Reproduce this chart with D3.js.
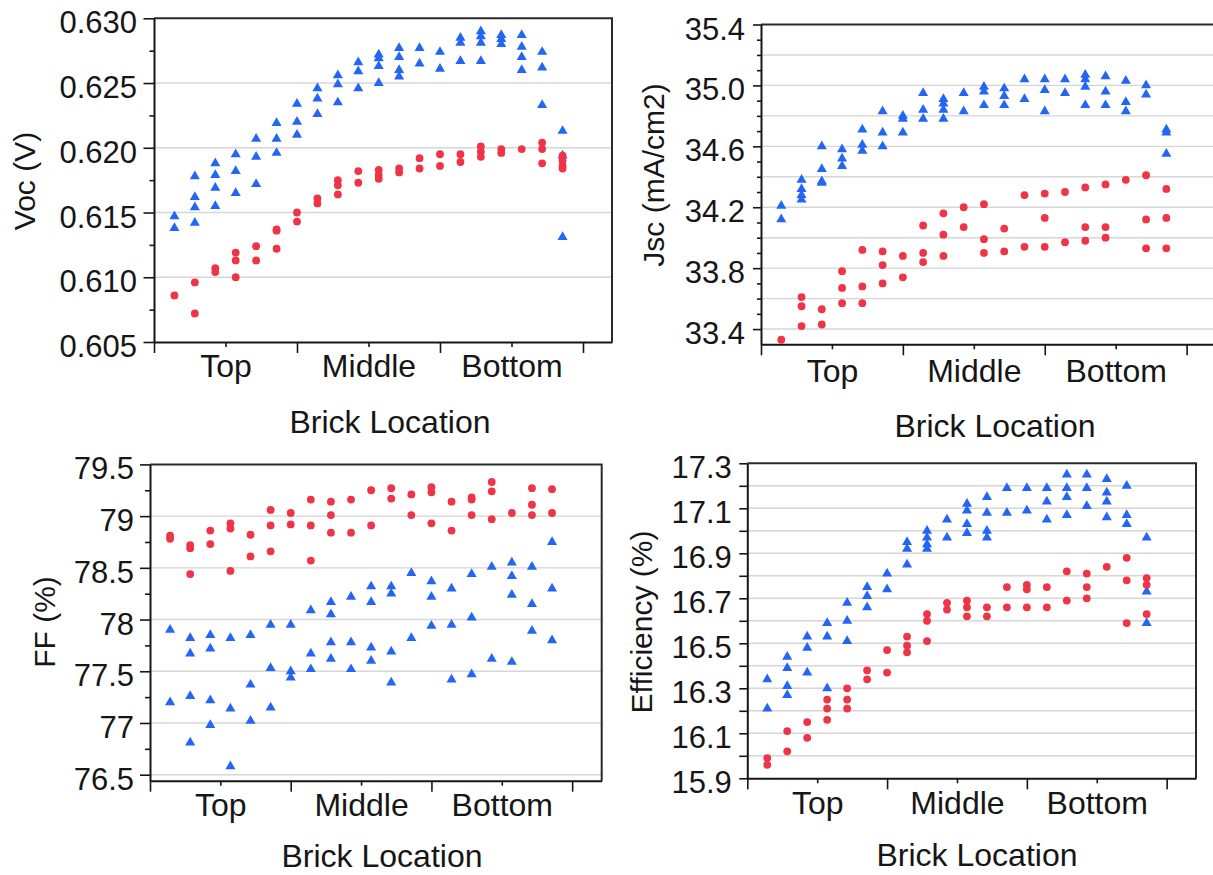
<!DOCTYPE html>
<html>
<head>
<meta charset="utf-8">
<script src="https://cdn.jsdelivr.net/npm/d3@7"></script>
<style>
  html, body { margin: 0; padding: 0; background: #fff; }
  svg { display: block; font-family: "Liberation Sans", Arial, Helvetica, sans-serif; }
</style>
</head>
<body>
<svg id="chart" width="1213" height="875"></svg>
<script>
// Brick slots along each ingot section (Top: 1-7, Middle: 7-14, Bottom: 14-20)
const brickSlots = [1, 2, 3, 4, 5, 6, 7, 8, 9, 10, 11, 12, 13, 14, 15, 16, 17, 18, 19, 20];
const locations = ["Top", "Middle", "Bottom"];
const locationTicks = [3.5, 10.5, 17.5];
const sectionEdges = [0, 7, 14, 21];

// Open-circuit voltage (V), one list of wafers per brick slot
const vocBlue = [
  [0.6147, 0.6138], [0.6178, 0.6162, 0.6154, 0.6142], [0.6188, 0.6179, 0.6169, 0.6155],
  [0.6195, 0.6182, 0.6165], [0.6207, 0.6193, 0.6172], [0.6219, 0.6207, 0.6196],
  [0.6234, 0.6220, 0.6210], [0.6246, 0.6238, 0.6226], [0.6256, 0.6249, 0.6235],
  [0.6266, 0.6259, 0.6246], [0.6272, 0.6269, 0.6263, 0.6250], [0.6277, 0.6270, 0.6260, 0.6255],
  [0.6277, 0.6265], [0.6274, 0.6261], [0.6285, 0.6281, 0.6267],
  [0.6290, 0.6286, 0.6281, 0.6267], [0.6287, 0.6284, 0.6280], [0.6287, 0.6278, 0.6270, 0.6260],
  [0.6274, 0.6262, 0.6233], [0.6213, 0.6194, 0.6131]
];
const vocRed = [
  [0.6086], [0.6096, 0.6072], [0.6107, 0.6104], [0.6119, 0.6113, 0.6100], [0.6124, 0.6113],
  [0.6137, 0.6136, 0.6122], [0.6150, 0.6143], [0.6161, 0.6157], [0.6175, 0.6171, 0.6164],
  [0.6182, 0.6173], [0.6183, 0.6179, 0.6176], [0.6184, 0.6181], [0.6192, 0.6184],
  [0.6195, 0.6186], [0.6195, 0.6189], [0.6201, 0.6197, 0.6193], [0.6199, 0.6196],
  [0.6199], [0.6204, 0.6199, 0.6188], [0.6194, 0.6190, 0.6186, 0.6184]
];

// Short-circuit current density (mA/cm2)
const jscBlue = [
  [34.21, 34.12], [34.38, 34.32, 34.28, 34.25], [34.60, 34.45, 34.37, 34.36],
  [34.58, 34.52, 34.47], [34.71, 34.61, 34.57], [34.83, 34.69, 34.60],
  [34.80, 34.78, 34.69], [34.95, 34.84, 34.78], [34.91, 34.88, 34.84, 34.78],
  [34.95, 34.83], [34.99, 34.96, 34.87], [34.98, 34.93, 34.87], [35.04, 34.91],
  [35.04, 34.97, 34.83], [35.04, 34.95], [35.07, 35.04, 34.99, 34.87],
  [35.06, 34.96, 34.87], [35.03, 34.89, 34.83], [35.00, 34.94], [34.71, 34.69, 34.55]
];
const jscRed = [
  [33.33], [33.61, 33.55, 33.42], [33.53, 33.43], [33.78, 33.67, 33.57],
  [33.92, 33.68, 33.57], [33.91, 33.82, 33.70], [33.88, 33.74], [34.08, 33.90, 33.84],
  [34.16, 34.02, 33.88], [34.20, 34.07], [34.22, 33.99, 33.90], [34.06, 33.91],
  [34.28, 33.94], [34.29, 34.13, 33.94], [34.30, 33.97], [34.33, 34.07, 33.98],
  [34.35, 34.07, 34.00], [34.38], [34.41, 34.12, 33.93], [34.32, 34.13, 33.93]
];

// Fill factor (%)
const ffBlue = [
  [77.90, 77.20], [77.82, 77.67, 77.26, 76.81], [77.85, 77.72, 77.22, 76.98],
  [77.82, 77.14, 76.58], [77.85, 77.37, 77.02], [77.95, 77.53, 77.15],
  [77.95, 77.50, 77.44], [78.09, 77.67, 77.52], [78.17, 78.05, 77.78, 77.62],
  [78.22, 77.78, 77.52], [78.32, 78.17, 77.73, 77.60], [78.32, 78.25, 77.69, 77.39],
  [78.45, 77.82], [78.37, 78.22, 77.94], [78.30, 77.95, 77.42], [78.44, 78.02, 77.47],
  [78.51, 77.62], [78.55, 78.42, 78.24, 77.59], [78.51, 78.15, 77.89], [78.75, 78.30, 77.80]
];
const ffRed = [
  [78.81, 78.78], [78.72, 78.69, 78.44], [78.86, 78.73], [78.93, 78.88, 78.47],
  [78.82, 78.61], [79.06, 78.91, 78.66], [79.03, 78.92], [79.16, 78.91, 78.57],
  [79.14, 79.01, 78.84], [79.16, 78.84], [79.25, 78.91], [79.27, 79.17], [79.21, 79.01],
  [79.28, 79.23, 78.93], [79.14, 78.86], [79.18, 79.16, 79.01], [79.33, 79.24, 78.97],
  [79.03], [79.27, 79.11, 79.01], [79.26, 79.03]
];

// Cell efficiency (%)
const effBlue = [
  [16.34, 16.21], [16.44, 16.39, 16.31, 16.27], [16.53, 16.48, 16.37], [16.59, 16.53, 16.30],
  [16.68, 16.60, 16.51], [16.75, 16.71, 16.66], [16.81, 16.74], [16.95, 16.92, 16.85],
  [17.00, 16.97, 16.94, 16.92], [17.05, 16.97], [17.12, 17.09, 17.03, 16.99],
  [17.15, 17.08, 17.00, 16.97], [17.19, 17.08], [17.19, 17.09], [17.19, 17.13, 17.05],
  [17.25, 17.19, 17.15, 17.07], [17.25, 17.19, 17.11], [17.23, 17.17, 17.13, 17.06],
  [17.20, 17.07, 17.03], [16.97, 16.73, 16.59]
];
const effRed = [
  [15.99, 15.96], [16.11, 16.02], [16.15, 16.08], [16.25, 16.21, 16.16], [16.30, 16.25, 16.21],
  [16.38, 16.34], [16.47, 16.37], [16.53, 16.49, 16.46], [16.63, 16.60, 16.51], [16.68, 16.65],
  [16.69, 16.66, 16.62], [16.66, 16.62], [16.75, 16.66], [16.76, 16.74, 16.66], [16.75, 16.66],
  [16.82, 16.69], [16.81, 16.75, 16.70], [16.84], [16.88, 16.78, 16.59], [16.79, 16.76, 16.63]
];

// Axis tick values and grid lines
const vocTicks = [0.605, 0.610, 0.615, 0.620, 0.625, 0.630];
const vocMinor = [0.6075, 0.6125, 0.6175, 0.6225, 0.6275];
const vocGrid = [0.610, 0.615, 0.620, 0.625];
const jscTicks = [33.4, 33.8, 34.2, 34.6, 35.0, 35.4];
const jscMinor = [33.5, 33.6, 33.7, 33.9, 34.0, 34.1, 34.3, 34.4, 34.5, 34.7, 34.8, 34.9, 35.1, 35.2, 35.3];
const jscGrid = [33.4, 33.6, 33.8, 34.0, 34.2, 34.4, 34.6, 34.8, 35.0, 35.2];
const ffTicks = [76.5, 77, 77.5, 78, 78.5, 79, 79.5];
const ffMinor = [76.75, 77.25, 77.75, 78.25, 78.75, 79.25];
const ffGrid = [76.5, 77, 77.5, 78, 78.5, 79];
const effTicks = [15.9, 16.1, 16.3, 16.5, 16.7, 16.9, 17.1, 17.3];
const effMinor = [16.0, 16.2, 16.4, 16.6, 16.8, 17.0, 17.2];
const effGrid = [16.0, 16.1, 16.2, 16.3, 16.4, 16.5, 16.6, 16.7, 16.8, 16.9, 17.0, 17.1, 17.2];

const BLUE = "#2466f4";
const RED = "#ef3447";
const INK = "#161616";

const panels = [
  { left: 154, top: 18.3, width: 458, height: 323.7, xMax: 22.42, yDomain: [0.605, 0.630],
    ticks: vocTicks, minor: vocMinor, grid: vocGrid, fmt: d3.format(".3f"),
    majorLen: 10.5, minorLen: 4.5, labelGap: 17,
    title: "Voc (V)", titleX: 35, titleY: 181, xTitleX: 390, xTitleY: 433, xLabelY: 35,
    blue: vocBlue, red: vocRed },
  { left: 761, top: 24.5, width: 455, height: 319.8, xMax: 22.45, yDomain: [33.3, 35.4],
    ticks: jscTicks, minor: jscMinor, grid: jscGrid, fmt: d3.format(".1f"),
    majorLen: 8, minorLen: 4, labelGap: 16,
    title: "Jsc (mA/cm2)", titleX: 664, titleY: 175, xTitleX: 995, xTitleY: 437, xLabelY: 38,
    blue: jscBlue, red: jscRed },
  { left: 150, top: 464.4, width: 451.7, height: 316.3, xMax: 22.47, yDomain: [76.442, 79.5],
    ticks: ffTicks, minor: ffMinor, grid: ffGrid, fmt: d => String(d),
    majorLen: 10, minorLen: 5, labelGap: 16,
    title: "FF (%)", titleX: 55, titleY: 622, xTitleX: 382, xTitleY: 867, xLabelY: 35,
    blue: ffBlue, red: ffRed },
  { left: 747.3, top: 463.3, width: 448.7, height: 315, xMax: 22.47, yDomain: [15.9, 17.3],
    ticks: effTicks, minor: effMinor, grid: effGrid, fmt: d3.format(".1f"),
    majorLen: 8, minorLen: 8, labelGap: 15.5,
    title: "Efficiency (%)", titleX: 652, titleY: 622, xTitleX: 977, xTitleY: 866, xLabelY: 36,
    blue: effBlue, red: effRed }
];

const svg = d3.select("#chart");

function flatten(series) {
  const out = [];
  series.forEach((vals, i) => vals.forEach(v => out.push({ slot: brickSlots[i], value: v })));
  return out;
}

panels.forEach(p => {
  const x = d3.scaleLinear().domain([0, p.xMax]).range([0, p.width]);
  const y = d3.scaleLinear().domain(p.yDomain).range([p.height, 0]);
  const g = svg.append("g").attr("transform", `translate(${p.left},${p.top})`);

  // horizontal reference lines
  g.append("g").selectAll("line").data(p.grid).join("line")
    .attr("x1", 0).attr("x2", p.width)
    .attr("y1", d => y(d)).attr("y2", d => y(d))
    .attr("stroke", "#d6d6d6").attr("stroke-width", 1.4);

  // plot frame: top and right edges
  g.append("path")
    .attr("d", `M0,0H${p.width}V${p.height}`)
    .attr("fill", "none").attr("stroke", "#2a2a2a").attr("stroke-width", 2);

  // y axis with labelled and minor ticks
  const yAxis = g.append("g").call(
    d3.axisLeft(y).tickValues(p.ticks).tickFormat(p.fmt)
      .tickSize(p.majorLen).tickSizeOuter(0).tickPadding(p.labelGap - p.majorLen));
  yAxis.select(".domain").attr("stroke", INK).attr("stroke-width", 2);
  yAxis.selectAll(".tick line").attr("stroke", INK).attr("stroke-width", 1.6);
  yAxis.selectAll(".tick text")
    .attr("fill", INK).attr("font-size", 31).attr("dy", "0.47em");
  const yMinor = g.append("g").call(
    d3.axisLeft(y).tickValues(p.minor).tickFormat("").tickSize(p.minorLen).tickSizeOuter(0));
  yMinor.select(".domain").remove();
  yMinor.selectAll(".tick line").attr("stroke", INK).attr("stroke-width", 1.6);

  // x axis: section boundaries and location labels
  const xAxis = g.append("g").attr("transform", `translate(0,${p.height})`).call(
    d3.axisBottom(x).tickValues(sectionEdges).tickFormat("").tickSize(11).tickSizeOuter(0));
  xAxis.select(".domain").attr("stroke", INK).attr("stroke-width", 2);
  xAxis.selectAll(".tick line").attr("stroke", INK).attr("stroke-width", 1.6);
  const xLab = g.append("g").attr("transform", `translate(0,${p.height})`).call(
    d3.axisBottom(x).tickValues(locationTicks).tickFormat((d, i) => locations[i]).tickSize(5));
  xLab.select(".domain").remove();
  xLab.selectAll(".tick line").attr("stroke", INK).attr("stroke-width", 1.6);
  xLab.selectAll(".tick text")
    .attr("fill", INK).attr("font-size", 32).attr("y", p.xLabelY).attr("dy", 0);

  // measurement points
  g.append("g").selectAll("path").data(flatten(p.blue)).join("path")
    .attr("d", d3.symbol(d3.symbolTriangle, 44)())
    .attr("transform", d => `translate(${x(d.slot)},${y(d.value)})`)
    .attr("fill", BLUE);
  g.append("g").selectAll("circle").data(flatten(p.red)).join("circle")
    .attr("cx", d => x(d.slot)).attr("cy", d => y(d.value)).attr("r", 3.9)
    .attr("fill", RED);

  // axis titles
  svg.append("text")
    .attr("transform", `translate(${p.titleX},${p.titleY}) rotate(-90)`)
    .attr("text-anchor", "middle").attr("font-size", 30).attr("fill", INK)
    .text(p.title);
  svg.append("text")
    .attr("x", p.xTitleX).attr("y", p.xTitleY)
    .attr("text-anchor", "middle").attr("font-size", 32).attr("fill", INK)
    .text("Brick Location");
});
</script>
</body>
</html>
